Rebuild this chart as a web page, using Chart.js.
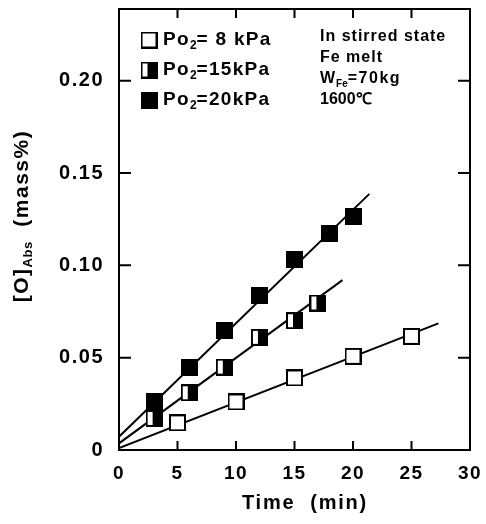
<!DOCTYPE html>
<html>
<head>
<meta charset="utf-8">
<script src="https://cdn.jsdelivr.net/npm/chart.js@4.4.1/dist/chart.umd.min.js"></script>
<style>
  html, body { margin: 0; padding: 0; background: #fff; }
  #wrap { width: 486px; height: 524px; position: relative; }
</style>
</head>
<body>
<div id="wrap"><canvas id="c" width="486" height="524"></canvas></div>
<script>
// ---- data ----
const legendLabels = ['8', '15', '20'];               // Po2 in kPa
const time8  = [5, 10, 15, 20, 25];
const oxy8   = [0.0147, 0.026, 0.039, 0.0507, 0.0615];
const time15 = [3, 6, 9, 12, 15, 17];
const oxy15  = [0.0171, 0.031, 0.0449, 0.061, 0.070, 0.0796];
const time20 = [3, 6, 9, 12, 15, 18, 20];
const oxy20  = [0.026, 0.0449, 0.0647, 0.0839, 0.103, 0.1173, 0.1267];
// fitted straight lines (end points)
const fitX8  = [0, 27.3];  const fitY8  = [0.001, 0.0686];
const fitX15 = [0, 19.1];  const fitY15 = [0.0036, 0.092];
const fitX20 = [0, 21.4];  const fitY20 = [0.0072, 0.1387];
const xTicks = [0, 5, 10, 15, 20, 25, 30];
const yTicks = [0, 0.05, 0.10, 0.15, 0.20];
const noteLines = ['In stirred state', 'Fe melt', 'WFe', '1600℃'];

const FONT = '"Liberation Sans", Arial, Helvetica, sans-serif';

function pts(xs, ys) { return xs.map((x, i) => ({ x: x, y: ys[i] })); }

function makeMarker(kind) {
  const s = 17;
  const c = document.createElement('canvas');
  c.width = s; c.height = s;
  const g = c.getContext('2d');
  g.fillStyle = '#fff';
  g.fillRect(0, 0, s, s);
  g.fillStyle = '#000';
  if (kind === 'full') g.fillRect(0, 0, s, s);
  if (kind === 'half') g.fillRect(7, 0, s - 7, s);
  g.strokeStyle = '#000';
  g.lineWidth = 2;
  g.strokeRect(1, 1, s - 2, s - 2);
  return c;
}
const mOpen = makeMarker('open');
const mHalf = makeMarker('half');
const mFull = makeMarker('full');

function drawRich(ctx, segs, size, x, y, align) {
  ctx.save();
  ctx.textBaseline = 'middle';
  ctx.textAlign = 'left';
  let total = 0;
  const widths = segs.map(s => {
    ctx.font = 'bold ' + (s.sub ? Math.round(size * 0.62) : size) + 'px ' + FONT;
    ctx.letterSpacing = (s.ls || 0) + 'px';
    const w = ctx.measureText(s.t).width;
    total += w;
    return w;
  });
  let cx = align === 'center' ? x - total / 2 : x;
  segs.forEach((s, i) => {
    ctx.font = 'bold ' + (s.sub ? Math.round(size * 0.62) : size) + 'px ' + FONT;
    ctx.letterSpacing = (s.ls || 0) + 'px';
    ctx.fillText(s.t, cx, y + (s.sub ? size * 0.3 : 0));
    cx += widths[i];
  });
  ctx.restore();
}

const decor = {
  id: 'decor',
  beforeDraw(chart) { chart.ctx.letterSpacing = '1.5px'; },
  afterDatasetsDraw(chart) {
    const ctx = chart.ctx;
    const a = chart.chartArea;
    const xs = chart.scales.x, ys = chart.scales.y;
    ctx.save();
    ctx.strokeStyle = '#000';
    ctx.lineWidth = 2;
    ctx.strokeRect(a.left, a.top, a.right - a.left, a.bottom - a.top);
    ctx.beginPath();
    xTicks.forEach(v => {
      if (v === 0 || v === 30) return;
      const px = xs.getPixelForValue(v);
      ctx.moveTo(px, a.bottom); ctx.lineTo(px, a.bottom - 9);
      ctx.moveTo(px, a.top); ctx.lineTo(px, a.top + 9);
    });
    yTicks.forEach(v => {
      if (v === 0) return;
      const py = ys.getPixelForValue(v);
      ctx.moveTo(a.left, py); ctx.lineTo(a.left + 12, py);
      ctx.moveTo(a.right, py); ctx.lineTo(a.right - 12, py);
    });
    ctx.stroke();
    ctx.fillStyle = '#000';
    // legend
    const markers = [mOpen, mHalf, mFull];
    const rowsY = [40, 70, 100];
    legendLabels.forEach((lab, i) => {
      ctx.drawImage(markers[i], 149 - 8.5, rowsY[i] - 8.5);
      const val = lab.length === 1 ? ' ' + lab + ' kPa' : lab + 'kPa';
      drawRich(ctx, [{ t: 'Po', ls: 1.3 }, { t: '2', sub: true }, { t: '=' + val, ls: 1.3 }], 19, 163, rowsY[i], 'left');
    });
    // note
    const nx = 320;
    drawRich(ctx, [{ t: noteLines[0], ls: 1 }], 16, nx, 37, 'left');
    drawRich(ctx, [{ t: noteLines[1], ls: 1 }], 16, nx, 58, 'left');
    drawRich(ctx, [{ t: 'W', ls: 1 }, { t: 'Fe', sub: true }, { t: '=70kg', ls: 1.5 }], 16, nx, 79, 'left');
    drawRich(ctx, [{ t: noteLines[3] }], 16, nx, 100, 'left');
    // axis titles
    drawRich(ctx, [{ t: 'Time  (min)', ls: 1.8 }], 20, 305, 503, 'center');
    ctx.save();
    ctx.translate(22, 216);
    ctx.rotate(-Math.PI / 2);
    drawRich(ctx, [{ t: '[O]', ls: 1.5 }, { t: 'Abs', sub: true, ls: 0.5 }, { t: '  (mass%)', ls: 1.5 }], 21, 0, 0, 'center');
    ctx.restore();
    ctx.restore();
  }
};

const lineDs = (xs, ys) => ({
  type: 'line', data: pts(xs, ys), borderColor: '#000', borderWidth: 2,
  pointRadius: 0, fill: false, order: 10, showLine: true
});
const ptDs = (xs, ys, m, ord) => ({
  type: 'scatter', data: pts(xs, ys), pointStyle: m, pointRadius: 8,
  pointHoverRadius: 8, showLine: false, order: ord
});
const zeroPad = s => { s.paddingTop = 0; s.paddingBottom = 0; s.paddingLeft = 0; s.paddingRight = 0; };

new Chart(document.getElementById('c'), {
  type: 'scatter',
  data: {
    datasets: [
      lineDs(fitX8, fitY8), lineDs(fitX15, fitY15), lineDs(fitX20, fitY20),
      ptDs(time20, oxy20, mFull, 3),
      ptDs(time15, oxy15, mHalf, 2),
      ptDs(time8, oxy8, mOpen, 1)
    ]
  },
  options: {
    responsive: false,
    animation: false,
    layout: { padding: { top: 7, right: 16, left: 0, bottom: 0 } },
    plugins: { legend: { display: false }, tooltip: { enabled: false } },
    scales: {
      x: {
        type: 'linear', min: 0, max: 30,
        afterBuildTicks: s => { s.ticks = xTicks.map(v => ({ value: v })); },
        afterFit: s => { s.height = 74; zeroPad(s); },
        grid: { display: false, drawTicks: false },
        border: { display: false },
        ticks: { color: '#000', padding: 12, maxRotation: 0, font: { family: FONT, size: 19, weight: 'bold' } }
      },
      y: {
        type: 'linear', min: 0, max: 0.2388,
        afterBuildTicks: s => { s.ticks = yTicks.map(v => ({ value: v })); },
        afterFit: s => { s.width = 119; zeroPad(s); },
        grid: { display: false, drawTicks: false },
        border: { display: false },
        ticks: {
          color: '#000', padding: 15,
          font: { family: FONT, size: 20, weight: 'bold' },
          callback: v => v === 0 ? '0' : v.toFixed(2)
        }
      }
    }
  },
  plugins: [decor]
});
</script>
</body>
</html>
